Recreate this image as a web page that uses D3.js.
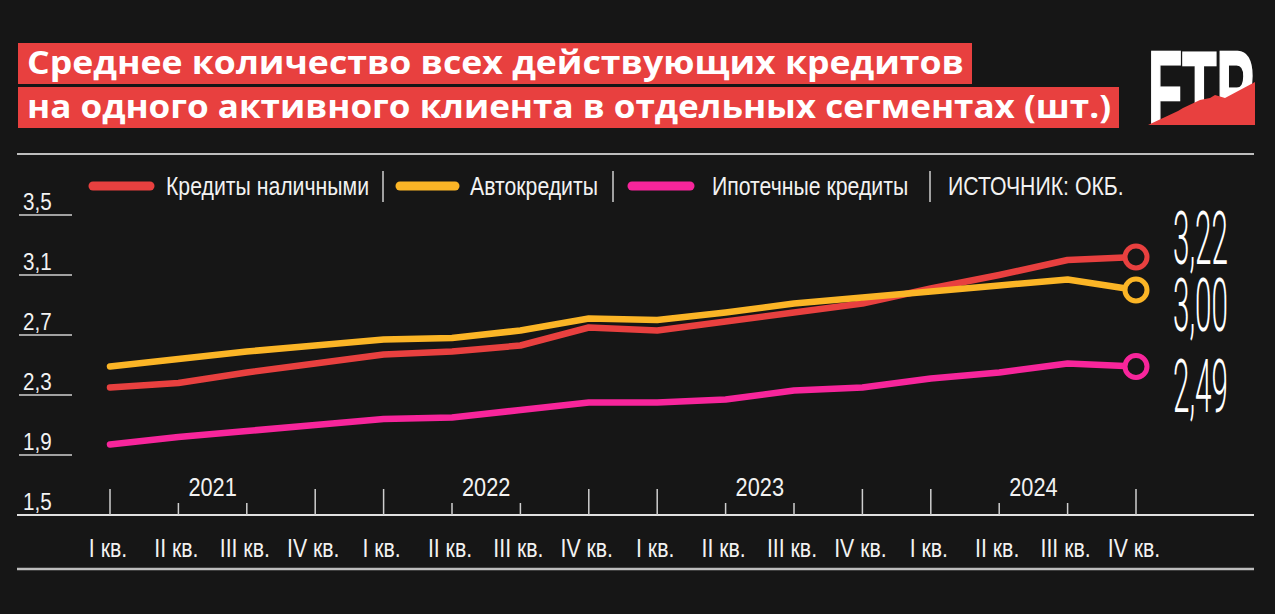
<!DOCTYPE html>
<html><head><meta charset="utf-8">
<script src="https://cdn.jsdelivr.net/npm/d3@7"></script>
<style>html,body{margin:0;padding:0;background:#161616;}svg{display:block;}</style>
</head><body>
<svg id="c" width="1275" height="614"></svg>
<script>
// ---- data ----
const quarters = ["I кв.","II кв.","III кв.","IV кв.","I кв.","II кв.","III кв.","IV кв.","I кв.","II кв.","III кв.","IV кв.","I кв.","II кв.","III кв.","IV кв."];
const years = ["2021","2022","2023","2024"];
const cashLoans = [2.35,2.38,2.45,2.51,2.57,2.59,2.63,2.75,2.73,2.79,2.85,2.91,3.01,3.10,3.20,3.22];
const autoLoans = [2.49,2.54,2.59,2.63,2.67,2.68,2.73,2.81,2.80,2.85,2.91,2.95,2.99,3.03,3.07,3.00];
const mortgages = [1.97,2.02,2.06,2.10,2.14,2.15,2.20,2.25,2.25,2.27,2.33,2.35,2.41,2.45,2.51,2.49];
const yTicks = [1.5,1.9,2.3,2.7,3.1,3.5];
const seriesNames = ["Кредиты наличными","Автокредиты","Ипотечные кредиты"];
const endLabels = ["3,22","3,00","2,49"];
const titleLines = ["Среднее количество всех действующих кредитов","на одного активного клиента в отдельных сегментах (шт.)"];
const sourceText = "ИСТОЧНИК: ОКБ.";

const colors = ["#e8403f","#fbb526","#f7259b"];
const svg = d3.select("#c");
svg.append("rect").attr("width",1275).attr("height",614).attr("fill","#161616");

const cond = "'Liberation Sans', Arimo, Arial, sans-serif";
function ctext(g, x, y, str, size, sx, anchor, fill){
  return g.append("text")
    .attr("transform",`translate(${x},${y}) scale(${sx},1)`)
    .attr("text-anchor",anchor||"start")
    .attr("font-family",cond)
    .attr("font-size",size)
    .attr("fill",fill||"#f2f2f2")
    .text(str);
}

// ---- title ----
const tW = [954, 1101];
titleLines.forEach((t,i)=>{
  svg.append("rect").attr("x",18).attr("y",43+i*44).attr("width",tW[i]).attr("height",41).attr("fill","#e8403f");
  svg.append("text").attr("x",27).attr("y",74+i*44)
    .attr("font-family","'Open Sans', Inter, sans-serif").attr("font-weight",700).attr("font-size",32)
    .attr("fill","#ffffff").attr("textLength",tW[i]-17).attr("lengthAdjust","spacingAndGlyphs").text(t);
});

// ---- logo ----
const logo = svg.append("g");
logo.append("text").attr("x",1148).attr("y",128).attr("font-family","'Liberation Sans', Arimo, Arial, sans-serif")
  .attr("font-weight",700).attr("font-size",110).attr("fill","#ffffff").attr("stroke","#ffffff").attr("stroke-width",2.5)
  .attr("textLength",106).attr("lengthAdjust","spacingAndGlyphs").text("FTP");
logo.append("rect").attr("x",1140).attr("y",125).attr("width",125).attr("height",12).attr("fill","#161616");
logo.append("path").attr("d","M1148,125 L1178,111 L1183,108 L1200,100 L1210,98 L1215,95 L1225,98 L1255,82 L1255,125 Z").attr("fill","#e8403f");

// ---- frame lines ----
svg.append("line").attr("x1",17).attr("x2",1254).attr("y1",154).attr("y2",154).attr("stroke","#bdbdbd").attr("stroke-width",2);
svg.append("line").attr("x1",17).attr("x2",1254).attr("y1",569).attr("y2",569).attr("stroke","#bdbdbd").attr("stroke-width",2.5);

// ---- scales ----
const x = d3.scalePoint().domain(d3.range(quarters.length)).range([110,1136]);
const y = d3.scaleLinear().domain([1.5,3.5]).range([515,215]);

// y axis ticks (underlined labels)
const ya = svg.append("g");
yTicks.forEach(v=>{
  if(v>1.5) ya.append("line").attr("x1",19).attr("x2",72).attr("y1",y(v)).attr("y2",y(v)).attr("stroke","#d0d0d0").attr("stroke-width",1.5);
  ctext(ya, 23, y(v)-5, String(v).replace(".",","), 24, 0.86);
});

// x axis
svg.append("line").attr("x1",17).attr("x2",1254).attr("y1",515).attr("y2",515).attr("stroke","#e0e0e0").attr("stroke-width",2);
const xa = svg.append("g");
quarters.forEach((q,i)=>{
  const tall = (i%4===0 || i%4===3);
  xa.append("line").attr("x1",x(i)).attr("x2",x(i)).attr("y1",tall?489:503).attr("y2",515).attr("stroke","#cfcfcf").attr("stroke-width",1.5);
  ctext(xa, x(i)-2, 557, q, 25, 0.85, "middle");
});
years.forEach((yr,k)=>{
  const cx = (x(k*4+1)+x(k*4+2))/2;
  ctext(xa, cx, 496, yr, 25, 0.87, "middle");
});

// ---- lines ----
const all = [cashLoans, autoLoans, mortgages];
const line = d3.line().x((d,i)=>x(i)).y(d=>y(d));
all.forEach((s,k)=>{
  svg.append("path").datum(s).attr("d",line).attr("fill","none").attr("stroke",colors[k])
    .attr("stroke-width",6.5).attr("stroke-linejoin","round").attr("stroke-linecap","round");
});
all.forEach((s,k)=>{
  const n = s.length-1;
  svg.append("circle").attr("cx",x(n)).attr("cy",y(s[n])).attr("r",11).attr("fill","#161616")
    .attr("stroke",colors[k]).attr("stroke-width",5);
});
// end labels
const endY = [264, 331, 412];
endLabels.forEach((t,k)=>{
  svg.append("text").attr("x",1173).attr("y",endY[k]).attr("font-family","Roboto, 'Liberation Sans', sans-serif")
    .attr("font-weight",300).attr("font-size",74).attr("fill","#ffffff")
    .attr("textLength",55).attr("lengthAdjust","spacingAndGlyphs").text(t);
});

// ---- legend ----
const lg = svg.append("g");
const sw = [[93,150],[400,455],[632,690]];
const lx = [166,470,712];
seriesNames.forEach((nm,k)=>{
  lg.append("line").attr("x1",sw[k][0]).attr("x2",sw[k][1]).attr("y1",186).attr("y2",186)
    .attr("stroke",colors[k]).attr("stroke-width",9).attr("stroke-linecap","round");
  ctext(lg, lx[k], 195, nm, 25, 0.85);
});
[383,613,930].forEach(sx=>{
  lg.append("line").attr("x1",sx).attr("x2",sx).attr("y1",171).attr("y2",202).attr("stroke","#cfcfcf").attr("stroke-width",1.5);
});
ctext(lg, 948, 195, sourceText, 25, 0.85);
</script>
</body></html>
